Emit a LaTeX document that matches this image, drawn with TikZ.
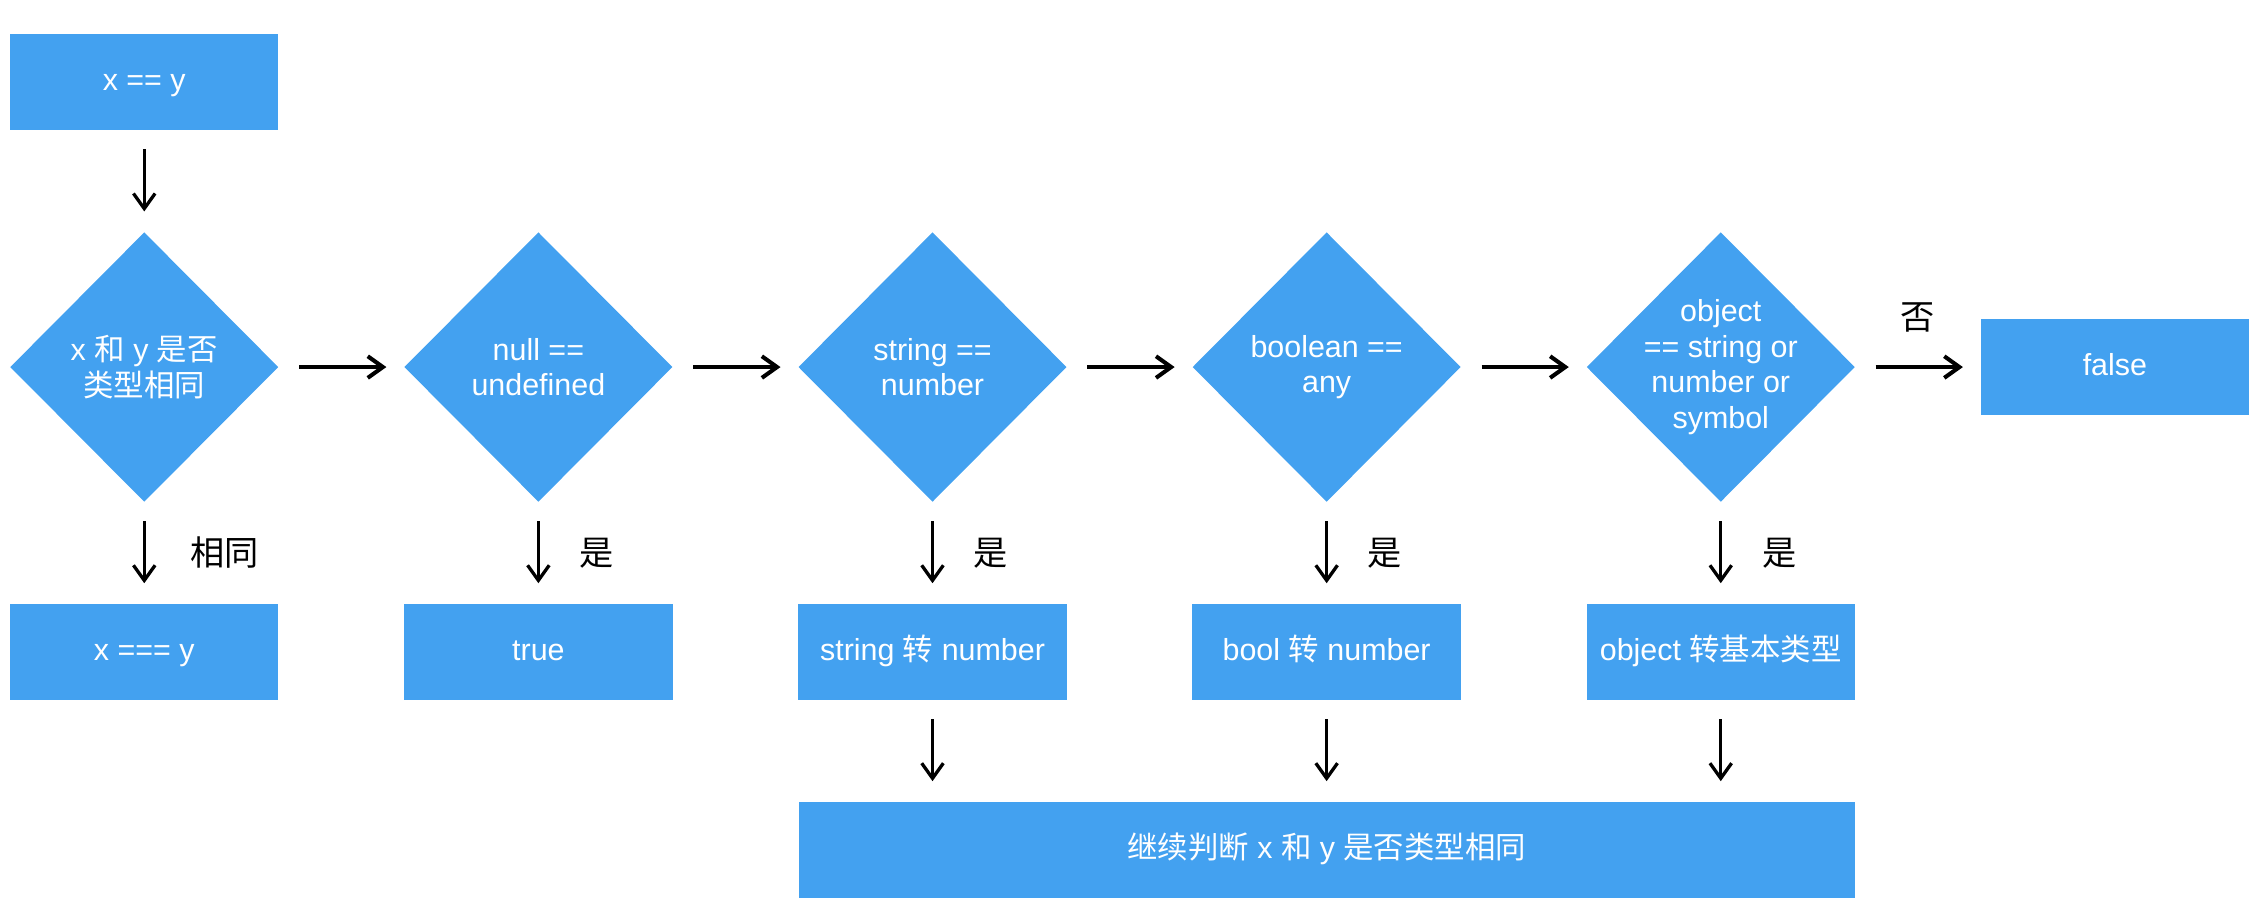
\documentclass[tikz,border=0pt]{standalone}
\usepackage{fontspec}
\setmainfont{Liberation Sans}
\newfontfamily\cjk{Noto Sans CJK SC}
\newcommand{\zh}[1]{{\cjk #1}}
\usetikzlibrary{arrows.meta,positioning,shapes.geometric}
\definecolor{jsblue}{RGB}{67,161,240}

\begin{document}
\begin{tikzpicture}[
    node distance=1.4cm and 1.73cm,
    box/.style={rectangle, fill=jsblue, text=white, minimum width=3.72cm, minimum height=1.33cm, text height=1.9ex, text depth=0.6ex, font=\fontsize{12}{14}\selectfont, align=center},
    decision/.style={diamond, fill=jsblue, text=white, minimum width=3.72cm, minimum height=3.74cm, inner sep=-6pt, font=\fontsize{12}{14}\selectfont, align=center},
    arrow/.style={-{Straight Barb[length=2.1mm,width=3mm]}, line width=1.6pt, shorten <=0.28cm, shorten >=0.24cm},
    downarrow/.style={-{Straight Barb[length=2.1mm,width=3mm]}, line width=1.3pt, shorten <=0.26cm, shorten >=0.28cm},
    answer/.style={font=\cjk\fontsize{13.5}{16}\selectfont, inner sep=0pt}
  ]

  \useasboundingbox (0,0) rectangle (31.36,12.48);

  % Start
  \node[box] (start) at (2,11.34) {x == y};

  % Decisions
  \node[decision, below=of start] (same) {x \zh{和} y \zh{是否}\\\zh{类型相同}};
  \node[decision, right=of same] (null) {null ==\\undefined};
  \node[decision, right=of null] (str) {string ==\\number};
  \node[decision, right=of str] (bool) {boolean ==\\any};
  \node[decision, right=of bool] (obj) {object\\== string or\\number or\\symbol};
  \node[box, right=of obj] (false) {false};

  % Results
  \node[box, below=of same] (strict) {x === y};
  \node[box, below=of null] (true) {true};
  \node[box, below=of str] (strnum) {string \zh{转} number};
  \node[box, below=of bool] (boolnum) {bool \zh{转} number};
  \node[box, below=of obj] (objprim) {object \zh{转基本类型}};

  % Back to the start
  \node[box, below=of boolnum, minimum width=14.64cm] (again) {\zh{继续判断} x \zh{和} y \zh{是否类型相同}};

  % Arrows
  \draw[downarrow] (start) -- (same);
  \draw[arrow] (same) -- (null);
  \draw[arrow] (null) -- (str);
  \draw[arrow] (str) -- (bool);
  \draw[arrow] (bool) -- (obj);
  \draw[arrow] (obj) -- node[answer, midway, above=0.45cm] {否} (false);

  \draw[downarrow] (same) -- node[answer, midway, right=0.62cm] {相同} (strict);
  \draw[downarrow] (null) -- node[answer, midway, right=0.55cm] {是} (true);
  \draw[downarrow] (str) -- node[answer, midway, right=0.55cm] {是} (strnum);
  \draw[downarrow] (bool) -- node[answer, midway, right=0.55cm] {是} (boolnum);
  \draw[downarrow] (obj) -- node[answer, midway, right=0.55cm] {是} (objprim);

  \draw[downarrow] (strnum) -- (strnum |- again.north);
  \draw[downarrow] (boolnum) -- (again);
  \draw[downarrow] (objprim) -- (objprim |- again.north);

\end{tikzpicture}
\end{document}
